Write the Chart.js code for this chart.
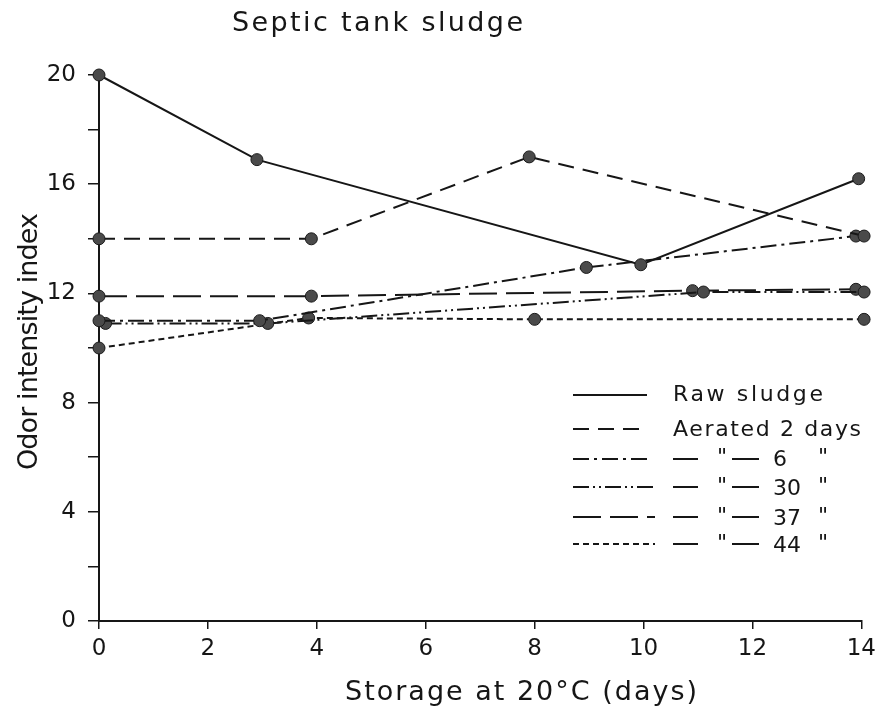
<!DOCTYPE html>
<html>
<head>
<meta charset="utf-8">
<script src="https://cdn.jsdelivr.net/npm/chart.js@4.4.0/dist/chart.umd.min.js"></script>
<style>
  html, body { margin: 0; background: #fff; }
</style>
</head>
<body>
<canvas id="chart" width="882" height="716"></canvas>
<script>
// values (days, odor intensity index)
const rawDays = [0, 2.9, 9.95, 13.95];
const rawIndex = [20, 16.9, 13.05, 16.2];
const aer2Days = [0, 3.9, 7.9, 14.05];
const aer2Index = [14, 14, 17, 14.1];
const aer6Days = [0, 2.95, 8.95, 13.9];
const aer6Index = [11.0, 11.0, 12.95, 14.1];
const aer30Days = [0.12, 3.1, 11.1, 14.05];
const aer30Index = [10.9, 10.9, 12.05, 12.05];
const aer37Days = [0, 3.9, 10.9, 13.9];
const aer37Index = [11.9, 11.9, 12.1, 12.15];
const aer44Days = [0, 3.85, 8, 14.05];
const aer44Index = [10, 11.1, 11.05, 11.05];

const seriesNames = ["Raw sludge", "Aerated 2 days", "Aerated 6 days", "Aerated 30 days", "Aerated 37 days", "Aerated 44 days"];
const dittoNumbers = ["", "", "6", "30", "37", "44"];
const xTicks = [0, 2, 4, 6, 8, 10, 12, 14];
const yTicks = [0, 4, 8, 12, 16, 20];

const FONT = "DejaVu Sans";
const INK = "#161616";

const toPoints = (xs, ys) => xs.map((x, i) => ({ x: x, y: ys[i] }));

const dashes = [[], [16, 9], [16, 5, 3, 5], [16, 4, 2, 4, 2, 4], [28, 9], [6, 4]];
const allData = [
  toPoints(rawDays, rawIndex),
  toPoints(aer2Days, aer2Index),
  toPoints(aer6Days, aer6Index),
  toPoints(aer30Days, aer30Index),
  toPoints(aer37Days, aer37Index),
  toPoints(aer44Days, aer44Index),
];

const datasets = allData.map((d, i) => ({
  label: seriesNames[i],
  data: d,
  borderColor: INK,
  borderWidth: 2,
  borderDash: dashes[i],
  pointRadius: 6,
  pointBackgroundColor: "#4a4a4a",
  pointBorderColor: "#1a1a1a",
  pointBorderWidth: 1,
  fill: false,
  tension: 0,
  clip: false,
}));

// draw text spread out to a given width (the figure uses wide lettering)
function spreadText(ctx, text, x, y, width) {
  ctx.letterSpacing = "0px";
  const w = ctx.measureText(text).width;
  const ls = (width - w) / (text.length - 1);
  ctx.letterSpacing = ls + "px";
  ctx.fillText(text, x, y);
  ctx.letterSpacing = "0px";
}

function hline(ctx, x1, x2, y, dash) {
  ctx.save();
  ctx.strokeStyle = INK;
  ctx.lineWidth = 2;
  ctx.setLineDash(dash || []);
  ctx.beginPath();
  ctx.moveTo(x1, y);
  ctx.lineTo(x2, y);
  ctx.stroke();
  ctx.restore();
}

const textPlugin = {
  id: "figureText",
  afterDraw(chart) {
    const ctx = chart.ctx;
    ctx.save();
    ctx.fillStyle = INK;
    ctx.textBaseline = "alphabetic";
    ctx.textAlign = "left";

    ctx.font = "27px '" + FONT + "'";
    spreadText(ctx, "Septic tank sludge", 232, 31, 291);
    spreadText(ctx, "Storage at 20°C (days)", 345, 700, 352);

    ctx.save();
    ctx.translate(37, 470);
    ctx.rotate(-Math.PI / 2);
    spreadText(ctx, "Odor intensity index", 0, 0, 257);
    ctx.restore();

    // legend
    const rowsLine = [395, 429, 459, 487, 517, 544];
    const rowsText = [401, 436, 466, 495, 525, 552];
    const lineEnd = [647, 642, 647, 655, 655, 655];
    ctx.font = "22px '" + FONT + "'";
    chart.data.datasets.forEach((ds, i) => {
      hline(ctx, 573, lineEnd[i], rowsLine[i], ds.borderDash);
      if (i < 2) {
        spreadText(ctx, ds.label, 673, rowsText[i], i === 0 ? 150 : 188);
      } else {
        hline(ctx, 673, 698, rowsLine[i]);
        ctx.fillText("\"", 717, rowsText[i] - 2);
        hline(ctx, 732, 759, rowsLine[i]);
        ctx.fillText(dittoNumbers[i], 773, rowsText[i]);
        ctx.fillText("\"", 818, rowsText[i] - 2);
      }
    });
    ctx.restore();
  },
};

new Chart(document.getElementById("chart"), {
  type: "line",
  data: { datasets: datasets },
  plugins: [textPlugin],
  options: {
    responsive: false,
    animation: false,
    layout: { padding: { top: 75, right: 15, left: 0, bottom: 0 } },
    plugins: {
      legend: { display: false },
      title: { display: false },
      tooltip: { enabled: false },
    },
    scales: {
      x: {
        type: "linear",
        min: 0,
        max: 14,
        afterFit: (scale) => { scale.height = 95; },
        afterBuildTicks: (scale) => { scale.ticks = xTicks.map((v) => ({ value: v })); },
        ticks: { color: INK, padding: 6, font: { family: FONT, size: 23 } },
        grid: { drawOnChartArea: false, tickLength: 8, color: INK, lineWidth: 1.5 },
        border: { color: INK, width: 2 },
      },
      y: {
        min: 0,
        max: 20,
        afterFit: (scale) => { scale.width = 99; },
        ticks: {
          stepSize: 2,
          color: INK,
          padding: 12,
          font: { family: FONT, size: 23 },
          callback: (v) => (yTicks.includes(v) ? v : ""),
        },
        grid: { drawOnChartArea: false, tickLength: 11, color: INK, lineWidth: 1.5 },
        border: { color: INK, width: 2 },
      },
    },
  },
});
</script>
</body>
</html>
